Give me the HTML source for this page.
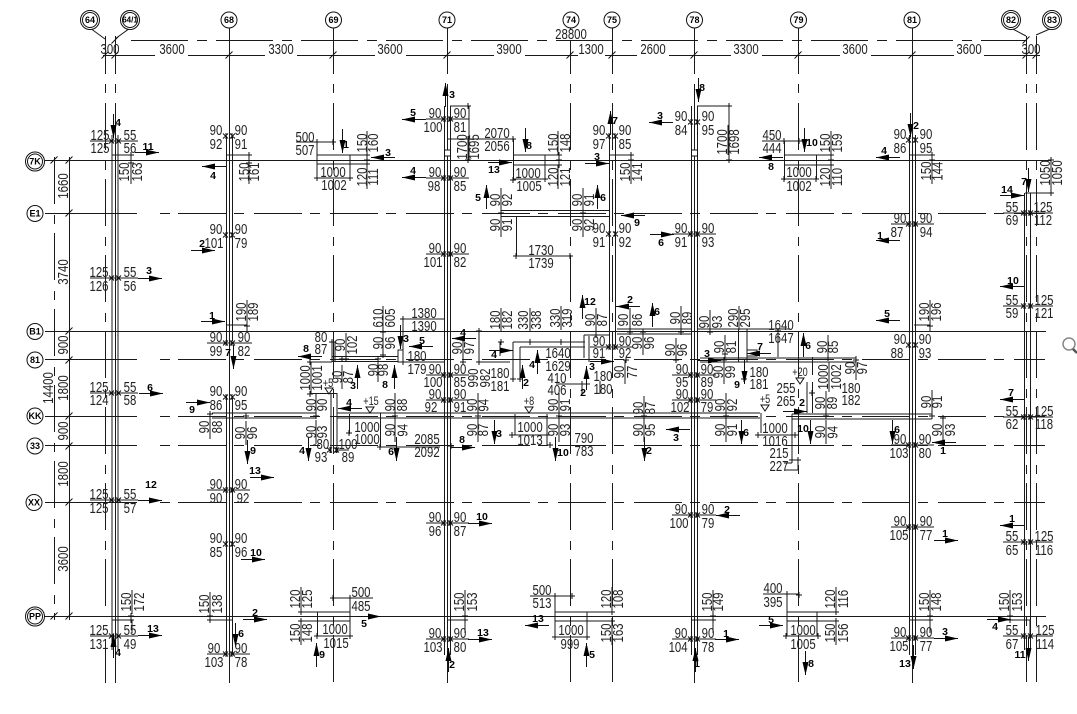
<!DOCTYPE html>
<html><head><meta charset="utf-8"><style>
html,body{margin:0;padding:0;background:#fff;width:1077px;height:714px;overflow:hidden}
svg{display:block}
text{font-family:"Liberation Sans",sans-serif;fill:#222}
.h text{font-size:15px;text-anchor:middle;transform-box:fill-box;transform-origin:center;transform:scaleX(.76)}
.v text{font-size:15px;text-anchor:middle;dominant-baseline:central;transform-box:fill-box;transform-origin:center;transform:rotate(-90deg) scaleX(.76)}
.a text{font-size:10.5px;font-weight:bold;text-anchor:middle;dominant-baseline:central;fill:#000}
.b text{font-size:9px;font-weight:bold;text-anchor:middle;dominant-baseline:central;fill:#000}
.l{fill:none;stroke:#1a1a1a;stroke-width:1}
.d{stroke-dasharray:47 11 9 9}
.e{stroke-dasharray:48 8 10 10}
.t{stroke-dasharray:57 9 10 9}
</style></head><body>
<svg width="1077" height="714" viewBox="0 0 1077 714">
<defs>
<g id="R"><path d="M0 0H24" stroke="#111" fill="none"/><path d="M11-3L24 0 11 3z" fill="#000"/></g>
<g id="L"><path d="M0 0H-24" stroke="#111" fill="none"/><path d="M-11-3L-24 0-11 3z" fill="#000"/></g>
<g id="U"><path d="M0 0V-24" stroke="#111" fill="none"/><path d="M-3-11L0-24 3-11z" fill="#000"/></g>
<g id="D"><path d="M0 0V24" stroke="#111" fill="none"/><path d="M-3 11L0 24 3 11z" fill="#000"/></g>
<path id="k" d="M-3.500 3.500L3.500-3.500" stroke="#111" fill="none"/>
<path id="w" d="M-6 2.500L-1-2.500M-6-2.500L-1 2.500M1 2.500L6-2.500M1-2.500L6 2.500M-3-3V3M3-3V3" stroke="#111" fill="none"/>
<path id="x" d="M-3 0H3M0-3V3" stroke="#111" fill="none"/>
<path id="T" d="M-4 0H4L0 6z" stroke="#111" fill="#fff"/>
</defs>

<!-- vertical axes -->
<path class="l d" d="M105.500 103V612M115.500 103V130M333.500 103V683M570.500 103V683M612.500 103V683M798.500 103V683M1026.500 103V683M1036.500 103V683"/>
<path class="l" d="M105.500 36V74M105.500 84V93M115.500 36V74M115.500 84V93M333.500 28V74M333.500 84V93M570.500 28V74M570.500 84V93M612.500 28V74M612.500 84V93M798.500 28V74M798.500 84V93M1026.500 36V74M1026.500 84V93M1036.500 36V74M1036.500 84V93M105.500 645V683M115.500 130V683M229.500 28V683M447.500 28V74M447.500 84V683M694.500 28V74M694.500 84V683M912.500 28V683"/>
<!-- bubble leaders -->
<path class="l" d="M90 28L105 39M130 28L115 39M1011 28L1026 36M1052 28L1036 35"/>
<!-- horizontal axes -->
<path class="l e" d="M178 213.500H1045M178 359.500H1045M178 416.500H1045M178 445.500H1045M178 502.500H1045"/>
<path class="l" d="M45 160.500H1051M45 331.500H1046M45 616.500H1046M45 213.500H137M160 213.500H170M45 359.500H137M160 359.500H170M45 416.500H137M160 416.500H170M45 445.500H137M160 445.500H170M45 502.500H137M160 502.500H170"/>
<!-- top dims -->
<path class="l t" d="M131 40.500H1027"/>
<path class="l" d="M103 55.500H1040"/>
<rect x="155" y="48" width="33" height="14" fill="#fff"/><rect x="265" y="48" width="32" height="14" fill="#fff"/><rect x="375" y="48" width="31" height="14" fill="#fff"/><rect x="494" y="48" width="31" height="14" fill="#fff"/><rect x="578" y="48" width="27" height="14" fill="#fff"/><rect x="637" y="48" width="32" height="14" fill="#fff"/><rect x="731" y="48" width="31" height="14" fill="#fff"/><rect x="840" y="48" width="31" height="14" fill="#fff"/><rect x="954" y="48" width="30" height="14" fill="#fff"/><rect x="551" y="30" width="40" height="10" fill="#fff"/>
<!-- left dims -->
<path class="l d" d="M54.500 157V620"/>
<path class="l" d="M69.500 157V620"/>
<g>
<use href="#k" x="54" y="160"/><use href="#k" x="69" y="160"/><use href="#k" x="69" y="213"/><use href="#k" x="69" y="331"/><use href="#k" x="69" y="360"/><use href="#k" x="69" y="416"/><use href="#k" x="69" y="446"/><use href="#k" x="69" y="502"/><use href="#k" x="69" y="616"/><use href="#k" x="54" y="616"/>
<use href="#k" x="105" y="55"/><use href="#k" x="115" y="55"/><use href="#k" x="229" y="55"/><use href="#k" x="333" y="55"/><use href="#k" x="447" y="55"/><use href="#k" x="570" y="55"/><use href="#k" x="612" y="55"/><use href="#k" x="694" y="55"/><use href="#k" x="798" y="55"/><use href="#k" x="912" y="55"/><use href="#k" x="1026" y="55"/><use href="#k" x="1036" y="55"/><use href="#k" x="115" y="40"/><use href="#k" x="1026" y="40"/>
</g>

<!-- walls -->
<path class="l" d="M112 135V650M118 135V650M226.500 136V341M232.500 136V341M226.500 396V654M232.500 396V654M444.500 106V655M450.500 106V655M609.500 135V345M615.500 135V345M691.500 106V655M697.500 106V655M909.500 135V655M915.500 135V655M1024.500 193V650M1030.500 193V650"/>
<rect x="444.500" y="150" width="6" height="6" fill="#fff" stroke="#111"/><rect x="691.500" y="150" width="6" height="6" fill="#fff" stroke="#111"/>

<!-- structures -->
<path class="l" d="M112 155H131V163M227 155H249V163M609 155H631V163M910 155H932V163
M317 155H367M317 164H367M317 142V178M350 155V178M317 142H335M317 178H350
M450 106H469V161M447 139H514M513.500 139V180M513.500 155H559M513.500 165H559M545 155V179M513 179H545
M697 106H729V161
M784 155H831M784 165H831M784.500 141V180M816.500 155V179M784 141H800M784 179H817
M1051 160V194M1025 193H1052
M501 210.500H610M501 216.500H610M516.500 216V256M516 256H570
M226 325H247V331M914 325H930V331
M335 342V362M332 342V362M332 356.500H398M332 361.500H398M398 350H403V362H398zM310 362H332
M403 319V362M403 319H444M403 362H444
M479 328V362H510M513 342V380M520 347V380M513 342H585M520 347H585M500 342V356M584 335V358M589 336V362M584 335H610M589 335H609
M617 329H692M617 334H692M697 329H790M738.500 329V362M747 329V362M747 350H757V356H747
M700 358H856M700 362H856M812.500 357V375M812.500 382V413M807 382V413M778 331V357
M212 413H316M212 418H316M337 413H760M337 418H760M792 414H932M792 419H932M761 413V433M792 414V460
M310 393.500H337M331 393V453M337 393V453M349.500 414V434M380.500 413V447M349 450H337M380 447H440M440 445.500H430
M515 414V435M512 435H547M547 414V446M758 435H795
M582 381V394M556 384H590M600 381V394M784 463H792M792 470H798M798 460V470M785 470H798
M300 612H350M300 621H350M317.500 612V636M350 598V636M317 636H350M333 598H350M350 598H373
M555 612H612M555 621H612M555 596V637M587 612V637M555 637H587M555 596H572M530 596H555
M787 612H836M787 621H836M787 594V636M817 612V636M787 636H817M787 594H799M763 594H787
M112 620H132V633M210 620H232M447 620H465V633M692 620H713V633M909 620H930V633M1010 620H1030V633
M90 141H138M90 278H138M90 393H138M90 500H138M90 636H138
M207 343H252M207 490H250M207 654H250
M426 119H469M426 178H469M426 254H469M426 375H469M426 400H469M426 523H469M426 639H469
M590 347H633
M672 234H716M672 375H716M672 400H716M672 515H716M672 639H716
M891 224H934M891 445H934M891 527H934M891 638H934
M1003 213H1053M1003 306H1053M1003 417H1053M1003 542H1053M1003 636H1053
M296 142H316M762 141H784M488 139H515"/>

<!-- rotated dim lines -->
<path class="l" d="M131 160V184M249 160V184M367 131V155M367 165V189M468 136V162M558 131V155M558 165V189M631 160V184M501 188V212M501 213V237M583 188V212M583 213V237M728 125V155M831 131V155M831 165V189M932 160V184M1051 160V185M247 300V324M930 300V324M346 333V357M342 365V389M311 362V394M383 306V330M383 331V355M378 358V382M316 393V417M316 420V444M395 393V417M395 418V442M210 415V439M246 421V445M463 336V360M501 308V332M530 308V332M561 306V330M596 308V332M630 308V332M643 331V355M681 306V330M710 310V334M739 306V330M676 338V362M725 335V359M724 360V384M625 360V384M478 393V417M478 418V442M559 393V417M559 418V442M644 396V420M644 418V442M726 393V417M726 418V442M829 362V392M828 335V359M856 356V380M826 391V415M826 420V444M932 390V414M943 418V442M132 590V614M210 592V616M301 587V611M301 621V645M465 590V614M612 587V611M612 621V645M713 590V614M836 587V611M836 621V645M930 590V614M1010 590V614"/>

<!-- double ticks -->
<g>
<use href="#w" x="115" y="141"/><use href="#w" x="115" y="278"/><use href="#w" x="115" y="393"/><use href="#w" x="115" y="500"/><use href="#w" x="115" y="636"/>
<use href="#w" x="229" y="136"/><use href="#w" x="229" y="235"/><use href="#w" x="229" y="343"/><use href="#w" x="229" y="397"/><use href="#w" x="229" y="490"/><use href="#w" x="229" y="544"/><use href="#w" x="229" y="654"/>
<use href="#w" x="447" y="119"/><use href="#w" x="447" y="178"/><use href="#w" x="447" y="254"/><use href="#w" x="447" y="375"/><use href="#w" x="447" y="400"/><use href="#w" x="447" y="523"/><use href="#w" x="447" y="639"/>
<use href="#w" x="612" y="136"/><use href="#w" x="612" y="234"/><use href="#w" x="612" y="347"/>
<use href="#w" x="694" y="122"/><use href="#w" x="694" y="234"/><use href="#w" x="694" y="375"/><use href="#w" x="694" y="400"/><use href="#w" x="694" y="515"/><use href="#w" x="694" y="639"/>
<use href="#w" x="912" y="140"/><use href="#w" x="912" y="224"/><use href="#w" x="912" y="345"/><use href="#w" x="912" y="445"/><use href="#w" x="912" y="527"/><use href="#w" x="912" y="638"/>
<use href="#w" x="1027" y="213"/><use href="#w" x="1027" y="306"/><use href="#w" x="1027" y="417"/><use href="#w" x="1027" y="542"/><use href="#w" x="1027" y="636"/>
<use href="#w" x="333" y="450"/>
<use href="#x" x="131" y="155"/><use href="#x" x="131" y="163"/><use href="#x" x="249" y="155"/><use href="#x" x="249" y="163"/><use href="#x" x="317" y="142"/><use href="#x" x="333" y="142"/><use href="#x" x="317" y="178"/><use href="#x" x="350" y="178"/><use href="#x" x="367" y="155"/><use href="#x" x="367" y="160"/><use href="#x" x="367" y="164"/>
<use href="#x" x="468" y="106"/><use href="#x" x="468" y="160"/><use href="#x" x="513" y="139"/><use href="#x" x="513" y="180"/><use href="#x" x="545" y="179"/><use href="#x" x="559" y="155"/><use href="#x" x="559" y="160"/><use href="#x" x="559" y="165"/>
<use href="#x" x="631" y="155"/><use href="#x" x="631" y="160"/><use href="#x" x="729" y="106"/><use href="#x" x="729" y="160"/><use href="#x" x="784" y="141"/><use href="#x" x="799" y="141"/><use href="#x" x="784" y="179"/><use href="#x" x="816" y="179"/><use href="#x" x="831" y="155"/><use href="#x" x="831" y="160"/><use href="#x" x="831" y="165"/><use href="#x" x="932" y="155"/><use href="#x" x="932" y="160"/><use href="#x" x="1051" y="160"/><use href="#x" x="1051" y="193"/>
<use href="#x" x="501" y="213"/><use href="#x" x="583" y="213"/><use href="#x" x="516" y="256"/><use href="#x" x="570" y="256"/>
<use href="#x" x="247" y="326"/><use href="#x" x="930" y="326"/><use href="#x" x="332" y="342"/><use href="#x" x="346" y="359"/><use href="#x" x="342" y="359"/><use href="#x" x="383" y="332"/><use href="#x" x="383" y="355"/><use href="#x" x="378" y="359"/><use href="#x" x="403" y="319"/><use href="#x" x="403" y="362"/><use href="#x" x="310" y="362"/><use href="#x" x="479" y="331"/><use href="#x" x="479" y="362"/><use href="#x" x="463" y="362"/><use href="#x" x="501" y="342"/><use href="#x" x="530" y="342"/><use href="#x" x="561" y="342"/><use href="#x" x="513" y="379"/><use href="#x" x="520" y="379"/><use href="#x" x="596" y="335"/><use href="#x" x="630" y="332"/><use href="#x" x="643" y="332"/><use href="#x" x="681" y="332"/><use href="#x" x="710" y="332"/><use href="#x" x="725" y="354"/><use href="#x" x="724" y="360"/><use href="#x" x="676" y="360"/><use href="#x" x="626" y="360"/><use href="#x" x="778" y="331"/><use href="#x" x="828" y="358"/><use href="#x" x="856" y="360"/><use href="#x" x="812" y="393"/><use href="#x" x="744" y="379"/>
<use href="#x" x="316" y="416"/><use href="#x" x="395" y="416"/><use href="#x" x="210" y="414"/><use href="#x" x="246" y="416"/><use href="#x" x="478" y="416"/><use href="#x" x="559" y="416"/><use href="#x" x="644" y="416"/><use href="#x" x="726" y="416"/><use href="#x" x="826" y="416"/><use href="#x" x="932" y="416"/><use href="#x" x="943" y="418"/><use href="#x" x="310" y="394"/><use href="#x" x="349" y="433"/><use href="#x" x="380" y="447"/><use href="#x" x="451" y="446"/><use href="#x" x="512" y="435"/><use href="#x" x="547" y="435"/><use href="#x" x="758" y="435"/><use href="#x" x="795" y="435"/><use href="#x" x="550" y="445"/><use href="#x" x="792" y="460"/><use href="#x" x="798" y="460"/>
<use href="#x" x="131" y="620"/><use href="#x" x="131" y="616"/><use href="#x" x="210" y="620"/><use href="#x" x="210" y="616"/><use href="#x" x="301" y="612"/><use href="#x" x="301" y="621"/><use href="#x" x="350" y="598"/><use href="#x" x="333" y="598"/><use href="#x" x="317" y="636"/><use href="#x" x="350" y="636"/><use href="#x" x="465" y="620"/><use href="#x" x="465" y="616"/><use href="#x" x="555" y="596"/><use href="#x" x="572" y="596"/><use href="#x" x="612" y="612"/><use href="#x" x="612" y="621"/><use href="#x" x="555" y="637"/><use href="#x" x="587" y="637"/><use href="#x" x="713" y="620"/><use href="#x" x="713" y="616"/><use href="#x" x="787" y="594"/><use href="#x" x="799" y="595"/><use href="#x" x="836" y="612"/><use href="#x" x="836" y="621"/><use href="#x" x="786" y="636"/><use href="#x" x="818" y="636"/><use href="#x" x="930" y="620"/><use href="#x" x="930" y="616"/><use href="#x" x="1010" y="620"/><use href="#x" x="1010" y="616"/>
</g>

<!-- level triangles -->
<use href="#T" x="329" y="388"/><use href="#T" x="370" y="407"/><use href="#T" x="529" y="407"/><use href="#T" x="765" y="405"/><use href="#T" x="800" y="378"/>

<!-- arrows -->
<g>
<use href="#D" x="113.500" y="114"/><use href="#R" x="135" y="152.500"/><use href="#L" x="226" y="166.500"/><use href="#D" x="342.500" y="129"/>
<use href="#U" x="445.500" y="107"/><use href="#L" x="426" y="119.500"/><use href="#L" x="395" y="157.500"/><use href="#L" x="426" y="177.500"/><use href="#D" x="525.500" y="128"/><use href="#R" x="488" y="162.500"/><use href="#U" x="486.500" y="209"/><use href="#U" x="597.500" y="209"/><use href="#U" x="610.500" y="135"/><use href="#R" x="585" y="163.500"/><use href="#L" x="645" y="215.500"/><use href="#R" x="650" y="234.500"/><use href="#L" x="673" y="122.500"/><use href="#D" x="698.500" y="78"/>
<use href="#D" x="804.500" y="128"/><use href="#L" x="783" y="157.500"/><use href="#D" x="910.500" y="113"/><use href="#L" x="900" y="157.500"/><use href="#R" x="1000" y="195.500"/><use href="#D" x="1028.500" y="168"/><use href="#L" x="900" y="240.500"/>
<use href="#R" x="191" y="250.500"/><use href="#R" x="138" y="278.500"/><use href="#R" x="201" y="321.500"/><use href="#D" x="233.500" y="345"/><use href="#L" x="322" y="356.500"/><use href="#R" x="139" y="393.500"/><use href="#R" x="186" y="402.500"/><use href="#L" x="362" y="408.500"/><use href="#D" x="247.500" y="440"/><use href="#R" x="250" y="477.500"/><use href="#D" x="308.500" y="437"/>
<use href="#U" x="357.500" y="389"/><use href="#U" x="394.500" y="389"/><use href="#D" x="400.500" y="325"/><use href="#L" x="433" y="346.500"/><use href="#L" x="476" y="338.500"/><use href="#R" x="489" y="350.500"/><use href="#U" x="537.500" y="374"/><use href="#U" x="522.500" y="389"/><use href="#D" x="396.500" y="437"/><use href="#R" x="451" y="447.500"/><use href="#D" x="494.500" y="420"/><use href="#D" x="555.500" y="437"/>
<use href="#U" x="582.500" y="319"/><use href="#L" x="640" y="306.500"/><use href="#U" x="652.500" y="327"/><use href="#U" x="586.500" y="390"/><use href="#R" x="590" y="361.500"/><use href="#R" x="697" y="360.500"/><use href="#L" x="771" y="353.500"/><use href="#D" x="744.500" y="360"/><use href="#L" x="690" y="429.500"/><use href="#D" x="644.500" y="437"/><use href="#D" x="741.500" y="420"/><use href="#D" x="810.500" y="420"/><use href="#R" x="783" y="411.500"/><use href="#U" x="803.500" y="357"/><use href="#L" x="900" y="320.500"/><use href="#D" x="892.500" y="420"/><use href="#L" x="956" y="442.500"/><use href="#L" x="1024" y="286.500"/><use href="#L" x="1024" y="399.500"/>
<use href="#R" x="138" y="500.500"/><use href="#R" x="241" y="559.500"/><use href="#R" x="243" y="619.500"/><use href="#R" x="138" y="635.500"/><use href="#U" x="113.500" y="658"/><use href="#D" x="235.500" y="623"/><use href="#U" x="316.500" y="667"/><use href="#R" x="357" y="616.500"/><use href="#R" x="468" y="523.500"/><use href="#R" x="468" y="639.500"/><use href="#U" x="448.500" y="672"/><use href="#L" x="549" y="625.500"/><use href="#U" x="586.500" y="667"/><use href="#U" x="695.500" y="672"/><use href="#R" x="715" y="639.500"/><use href="#L" x="740" y="515.500"/><use href="#R" x="759" y="625.500"/><use href="#D" x="805.500" y="651"/><use href="#R" x="934" y="540.500"/><use href="#R" x="934" y="638.500"/><use href="#D" x="913.500" y="645"/><use href="#L" x="1024" y="525.500"/><use href="#R" x="987" y="619.500"/><use href="#D" x="1028.500" y="637"/>
</g>

<!-- bubbles -->
<g fill="#fff" stroke="#111">
<circle cx="90" cy="20" r="9.500"/><circle cx="90" cy="20" r="7.500"/><circle cx="130" cy="20" r="9.500"/><circle cx="130" cy="20" r="7.500"/>
<circle cx="229" cy="20" r="8"/><circle cx="333.500" cy="20" r="8"/><circle cx="447" cy="20" r="8"/><circle cx="571" cy="20" r="8"/><circle cx="612" cy="20" r="8"/><circle cx="694.500" cy="20" r="8"/><circle cx="798.500" cy="20" r="8"/><circle cx="912" cy="20" r="8"/>
<circle cx="1011" cy="20" r="9.500"/><circle cx="1011" cy="20" r="7.500"/><circle cx="1052" cy="20" r="9.500"/><circle cx="1052" cy="20" r="7.500"/>
<circle cx="35" cy="161.500" r="9.500"/><circle cx="35" cy="161.500" r="7.500"/><circle cx="35" cy="213.500" r="8"/><circle cx="35" cy="331.500" r="8"/><circle cx="35" cy="360" r="8"/><circle cx="35" cy="416" r="8"/><circle cx="35" cy="446" r="8"/><circle cx="34" cy="502.500" r="8"/><circle cx="35" cy="616.500" r="9.500"/><circle cx="35" cy="616.500" r="7.500"/>
</g>
<g class="b">
<text x="90" y="20">64</text><text x="130" y="20" style="font-size:8px">64/1</text><text x="229" y="20">68</text><text x="333.500" y="20">69</text><text x="447" y="20">71</text><text x="571" y="20">74</text><text x="612" y="20">75</text><text x="694.500" y="20">78</text><text x="798.500" y="20">79</text><text x="912" y="20">81</text><text x="1011" y="20">82</text><text x="1052" y="20">83</text>
<text x="35" y="161.500">7K</text><text x="35" y="213.500">E1</text><text x="35" y="331.500">B1</text><text x="35" y="360">81</text><text x="35" y="416">KK</text><text x="35" y="446">33</text><text x="34" y="502.500">XX</text><text x="35" y="616.500">PP</text>
</g>

<!-- horizontal dim text -->
<g class="h">
<text x="110" y="54">300</text><text x="172" y="54">3600</text><text x="281" y="54">3300</text><text x="390" y="54">3600</text><text x="509" y="54">3900</text><text x="591" y="54">1300</text><text x="653" y="54">2600</text><text x="746" y="54">3300</text><text x="855" y="54">3600</text><text x="969" y="54">3600</text><text x="1031" y="54">300</text><text x="571" y="39">28800</text>
<text x="100" y="140">125</text><text x="100" y="153">125</text><text x="130" y="140">55</text><text x="130" y="153">56</text>
<text x="99" y="277">125</text><text x="99" y="291">126</text><text x="130" y="277">55</text><text x="130" y="291">56</text>
<text x="99" y="392">125</text><text x="99" y="405">124</text><text x="130" y="392">55</text><text x="130" y="405">58</text>
<text x="99" y="499">125</text><text x="99" y="513">125</text><text x="130" y="499">55</text><text x="130" y="513">57</text>
<text x="99" y="635">125</text><text x="99" y="649">131</text><text x="130" y="635">55</text><text x="130" y="649">49</text>
<text x="216" y="135">90</text><text x="216" y="149">92</text><text x="241" y="135">90</text><text x="241" y="149">91</text>
<text x="216" y="234">90</text><text x="214" y="248">101</text><text x="241" y="234">90</text><text x="241" y="248">79</text>
<text x="216" y="342">90</text><text x="216" y="356">99</text><text x="244" y="342">90</text><text x="244" y="356">82</text>
<text x="216" y="396">90</text><text x="216" y="410">86</text><text x="241" y="396">90</text><text x="241" y="410">95</text>
<text x="216" y="489">90</text><text x="216" y="503">90</text><text x="241" y="489">90</text><text x="243" y="503">92</text>
<text x="216" y="543">90</text><text x="216" y="557">85</text><text x="241" y="543">90</text><text x="241" y="557">96</text>
<text x="214" y="653">90</text><text x="214" y="667">103</text><text x="241" y="653">90</text><text x="241" y="667">78</text>
<text x="435" y="118">90</text><text x="433" y="132">100</text><text x="460" y="118">90</text><text x="460" y="132">81</text>
<text x="435" y="177">90</text><text x="434" y="191">98</text><text x="460" y="177">90</text><text x="460" y="191">85</text>
<text x="435" y="253">90</text><text x="433" y="267">101</text><text x="460" y="253">90</text><text x="460" y="267">82</text>
<text x="435" y="374">90</text><text x="433" y="387">100</text><text x="460" y="374">90</text><text x="460" y="387">85</text>
<text x="435" y="399">90</text><text x="431" y="412">92</text><text x="460" y="399">90</text><text x="460" y="412">91</text>
<text x="435" y="522">90</text><text x="435" y="536">96</text><text x="460" y="522">90</text><text x="460" y="536">87</text>
<text x="435" y="638">90</text><text x="433" y="652">103</text><text x="460" y="638">90</text><text x="460" y="652">80</text>
<text x="599" y="135">90</text><text x="599" y="149">97</text><text x="625" y="135">90</text><text x="625" y="149">85</text>
<text x="599" y="233">90</text><text x="599" y="247">91</text><text x="625" y="233">90</text><text x="625" y="247">92</text>
<text x="599" y="346">90</text><text x="599" y="358">91</text><text x="625" y="346">90</text><text x="625" y="358">92</text>
<text x="681" y="121">90</text><text x="681" y="135">84</text><text x="708" y="121">90</text><text x="708" y="135">95</text>
<text x="681" y="233">90</text><text x="681" y="247">91</text><text x="708" y="233">90</text><text x="708" y="247">93</text>
<text x="682" y="374">90</text><text x="682" y="387">95</text><text x="707" y="374">90</text><text x="707" y="387">89</text>
<text x="682" y="399">90</text><text x="680" y="412">102</text><text x="707" y="399">90</text><text x="707" y="412">79</text>
<text x="681" y="514">90</text><text x="679" y="528">100</text><text x="708" y="514">90</text><text x="708" y="528">79</text>
<text x="681" y="638">90</text><text x="678" y="652">104</text><text x="708" y="638">90</text><text x="708" y="652">78</text>
<text x="900" y="139">90</text><text x="900" y="153">86</text><text x="926" y="139">90</text><text x="926" y="153">95</text>
<text x="900" y="223">90</text><text x="897" y="237">87</text><text x="926" y="223">90</text><text x="926" y="237">94</text>
<text x="900" y="344">90</text><text x="897" y="358">88</text><text x="925" y="344">90</text><text x="925" y="358">93</text>
<text x="900" y="444">90</text><text x="899" y="458">103</text><text x="925" y="444">90</text><text x="925" y="458">80</text>
<text x="900" y="526">90</text><text x="899" y="540">105</text><text x="926" y="526">90</text><text x="926" y="540">77</text>
<text x="900" y="637">90</text><text x="899" y="651">105</text><text x="926" y="637">90</text><text x="926" y="651">77</text>
<text x="1012" y="212">55</text><text x="1012" y="225">69</text><text x="1043" y="212">125</text><text x="1043" y="225">112</text>
<text x="1012" y="305">55</text><text x="1012" y="318">59</text><text x="1044" y="305">125</text><text x="1044" y="318">121</text>
<text x="1012" y="416">55</text><text x="1012" y="429">62</text><text x="1044" y="416">125</text><text x="1044" y="429">118</text>
<text x="1012" y="541">55</text><text x="1012" y="555">65</text><text x="1044" y="541">125</text><text x="1044" y="555">116</text>
<text x="1012" y="635">55</text><text x="1012" y="649">67</text><text x="1045" y="635">125</text><text x="1045" y="649">114</text>
<text x="305" y="142">500</text><text x="305" y="155">507</text><text x="333" y="177">1000</text><text x="334" y="190">1002</text>
<text x="497" y="138">2070</text><text x="497" y="151">2056</text><text x="528" y="178">1000</text><text x="529" y="191">1005</text>
<text x="772" y="140">450</text><text x="772" y="153">444</text><text x="799" y="177">1000</text><text x="799" y="191">1002</text>
<text x="541" y="255">1730</text><text x="541" y="268">1739</text>
<text x="424" y="318">1380</text><text x="424" y="331">1390</text><text x="417" y="361">180</text><text x="417" y="374">179</text><text x="321" y="342">80</text><text x="321" y="354">87</text>
<text x="558" y="358">1640</text><text x="558" y="371">1629</text><text x="557" y="383">410</text><text x="557" y="395">406</text><text x="500" y="378">180</text><text x="500" y="391">181</text><text x="603" y="381">180</text><text x="603" y="394">180</text>
<text x="781" y="330">1640</text><text x="781" y="343">1647</text><text x="759" y="377">180</text><text x="759" y="389">181</text><text x="851" y="393">180</text><text x="851" y="405">182</text><text x="786" y="393">255</text><text x="786" y="406">265</text>
<text x="530" y="432">1000</text><text x="530" y="445">1013</text><text x="367" y="432">1000</text><text x="367" y="444">1000</text><text x="348" y="449">100</text><text x="348" y="462">89</text><text x="321" y="449">-80</text><text x="321" y="462">93</text>
<text x="427" y="444">2085</text><text x="427" y="457">2092</text><text x="584" y="443">790</text><text x="584" y="456">783</text><text x="775" y="433">1000</text><text x="775" y="446">1016</text><text x="779" y="458">215</text><text x="779" y="471">227</text>
<text x="361" y="597">500</text><text x="361" y="611">485</text><text x="335" y="634">1000</text><text x="336" y="648">1015</text><text x="542" y="595">500</text><text x="542" y="608">513</text><text x="571" y="635">1000</text><text x="570" y="649">999</text><text x="773" y="593">400</text><text x="773" y="607">395</text><text x="803" y="635">1000</text><text x="803" y="649">1005</text>
<text x="328" y="387" style="font-size:12px">+5</text><text x="371" y="405" style="font-size:12px">+15</text><text x="529" y="405" style="font-size:12px">+8</text><text x="765" y="403" style="font-size:12px">+5</text><text x="800" y="376" style="font-size:12px">+20</text>
</g>

<!-- vertical dim text -->
<g class="v">
<text x="63" y="186">1660</text><text x="63" y="272">3740</text><text x="63" y="345">900</text><text x="63" y="388">1800</text><text x="63" y="431">900</text><text x="63" y="474">1800</text><text x="63" y="559">3600</text><text x="48" y="388">14400</text>
<text x="124" y="172">150</text><text x="137" y="172">163</text><text x="244" y="172">150</text><text x="254" y="172">161</text><text x="362" y="143">150</text><text x="373" y="143">160</text><text x="362" y="177">120</text><text x="373" y="177">111</text>
<text x="462" y="147">1700</text><text x="474" y="147">1695</text><text x="553" y="143">150</text><text x="565" y="143">148</text><text x="553" y="177">120</text><text x="565" y="177">121</text><text x="625" y="172">150</text><text x="637" y="172">141</text>
<text x="495" y="200">90</text><text x="507" y="200">92</text><text x="495" y="225">90</text><text x="507" y="225">91</text><text x="577" y="200">90</text><text x="589" y="200">91</text><text x="577" y="225">90</text><text x="589" y="225">92</text>
<text x="722" y="142">1700</text><text x="734" y="142">1698</text><text x="825" y="143">150</text><text x="837" y="143">159</text><text x="825" y="177">120</text><text x="837" y="177">110</text><text x="926" y="171">150</text><text x="937" y="171">144</text><text x="1045" y="173">1050</text><text x="1057" y="173">1050</text>
<text x="241" y="312">190</text><text x="253" y="312">189</text><text x="924" y="312">190</text><text x="936" y="312">196</text>
<text x="340" y="345">90</text><text x="352" y="345">102</text><text x="337" y="377">90</text><text x="348" y="377">87</text><text x="305" y="378">1000</text><text x="317" y="378">1001</text><text x="378" y="318">610</text><text x="390" y="318">605</text><text x="378" y="343">90</text><text x="390" y="343">96</text><text x="373" y="370">90</text><text x="383" y="370">98</text>
<text x="311" y="405">90</text><text x="322" y="405">90</text><text x="311" y="432">90</text><text x="322" y="432">93</text><text x="390" y="405">90</text><text x="402" y="405">88</text><text x="390" y="430">90</text><text x="402" y="430">94</text><text x="204" y="427">90</text><text x="217" y="427">88</text><text x="240" y="433">90</text><text x="252" y="433">96</text>
<text x="457" y="348">90</text><text x="469" y="348">97</text><text x="473" y="378">990</text><text x="485" y="378">982</text><text x="495" y="320">180</text><text x="507" y="320">182</text><text x="523" y="320">330</text><text x="536" y="320">338</text><text x="555" y="318">330</text><text x="567" y="318">319</text><text x="590" y="320">90</text><text x="602" y="320">87</text><text x="623" y="320">90</text><text x="637" y="320">86</text><text x="637" y="343">90</text><text x="649" y="343">96</text><text x="675" y="318">90</text><text x="687" y="318">89</text><text x="704" y="322">90</text><text x="717" y="322">93</text><text x="733" y="318">290</text><text x="745" y="318">295</text><text x="670" y="350">90</text><text x="682" y="350">96</text><text x="719" y="347">90</text><text x="731" y="347">81</text><text x="718" y="372">90</text><text x="730" y="372">99</text><text x="619" y="372">90</text><text x="632" y="372">77</text>
<text x="472" y="405">90</text><text x="483" y="405">94</text><text x="472" y="430">90</text><text x="483" y="430">87</text><text x="553" y="405">90</text><text x="565" y="405">91</text><text x="553" y="430">90</text><text x="565" y="430">93</text><text x="638" y="408">90</text><text x="650" y="408">87</text><text x="638" y="430">90</text><text x="650" y="430">95</text><text x="720" y="405">90</text><text x="732" y="405">92</text><text x="720" y="430">90</text><text x="732" y="430">91</text>
<text x="823" y="377">1000</text><text x="836" y="377">1002</text><text x="822" y="347">90</text><text x="833" y="347">85</text><text x="850" y="368">90</text><text x="862" y="368">97</text><text x="820" y="403">90</text><text x="832" y="403">89</text><text x="820" y="432">90</text><text x="832" y="432">94</text><text x="926" y="402">90</text><text x="937" y="402">91</text><text x="937" y="430">90</text><text x="950" y="430">93</text>
<text x="126" y="602">150</text><text x="139" y="602">172</text><text x="204" y="604">150</text><text x="217" y="604">138</text><text x="295" y="599">120</text><text x="307" y="599">125</text><text x="295" y="633">150</text><text x="307" y="633">148</text><text x="459" y="602">150</text><text x="472" y="602">153</text><text x="606" y="599">120</text><text x="618" y="599">108</text><text x="606" y="633">150</text><text x="618" y="633">163</text><text x="707" y="602">150</text><text x="718" y="602">149</text><text x="830" y="599">120</text><text x="843" y="599">116</text><text x="830" y="633">150</text><text x="843" y="633">156</text><text x="924" y="602">150</text><text x="936" y="602">148</text><text x="1004" y="602">150</text><text x="1017" y="602">153</text>
</g>

<!-- arrow labels -->
<g class="a">
<text x="118" y="123">4</text><text x="148" y="147">11</text><text x="213" y="176">4</text><text x="346" y="145">1</text><text x="452" y="95">3</text><text x="413" y="113">5</text><text x="388" y="153">3</text><text x="413" y="171">4</text><text x="529" y="146">8</text><text x="494" y="170">13</text><text x="478" y="198">5</text><text x="603" y="198">6</text><text x="615" y="121">7</text><text x="597" y="157">3</text><text x="637" y="223">9</text><text x="661" y="243">6</text><text x="660" y="116">3</text><text x="702" y="88">8</text>
<text x="812" y="143">10</text><text x="771" y="167">8</text><text x="916" y="126">2</text><text x="884" y="151">4</text><text x="1007" y="190">14</text><text x="1024" y="182">7</text><text x="880" y="236">1</text>
<text x="202" y="244">2</text><text x="149" y="271">3</text><text x="212" y="316">1</text><text x="228" y="353">7</text><text x="306" y="349">8</text><text x="150" y="388">6</text><text x="192" y="410">9</text><text x="349" y="403">4</text><text x="253" y="451">9</text><text x="255" y="471">13</text><text x="302" y="451">4</text><text x="353" y="386">3</text><text x="385" y="385">8</text><text x="406" y="339">3</text><text x="422" y="341">5</text><text x="463" y="333">4</text><text x="494" y="355">4</text><text x="532" y="365">4</text><text x="526" y="383">2</text><text x="391" y="452">6</text><text x="462" y="440">8</text><text x="499" y="434">3</text><text x="563" y="453">10</text>
<text x="590" y="302">12</text><text x="630" y="300">2</text><text x="657" y="312">6</text><text x="592" y="367">3</text><text x="583" y="393">2</text><text x="707" y="354">3</text><text x="760" y="347">7</text><text x="737" y="385">9</text><text x="676" y="438">3</text><text x="649" y="451">2</text><text x="746" y="433">6</text><text x="803" y="429">10</text><text x="802" y="403">2</text><text x="808" y="346">6</text><text x="887" y="314">5</text><text x="897" y="430">6</text><text x="943" y="451">1</text><text x="1013" y="281">10</text><text x="1011" y="393">7</text>
<text x="151" y="485">12</text><text x="256" y="553">10</text><text x="255" y="613">2</text><text x="153" y="629">13</text><text x="118" y="653">4</text><text x="241" y="634">6</text><text x="322" y="655">9</text><text x="364" y="624">5</text><text x="482" y="517">10</text><text x="483" y="633">13</text><text x="452" y="665">2</text><text x="538" y="619">13</text><text x="592" y="655">5</text><text x="697" y="664">1</text><text x="726" y="634">1</text><text x="727" y="510">2</text><text x="771" y="620">5</text><text x="811" y="664">8</text><text x="945" y="534">1</text><text x="945" y="632">3</text><text x="905" y="664">13</text><text x="1012" y="519">1</text><text x="995" y="627">4</text><text x="1020" y="655">11</text>
</g>

<!-- magnifier -->
<circle cx="1069" cy="344" r="6" fill="#fff" stroke="#888" stroke-width="1.500"/>
<path d="M1073 349L1077 353" stroke="#555" stroke-width="2.500" fill="none"/>
</svg>
</body></html>
